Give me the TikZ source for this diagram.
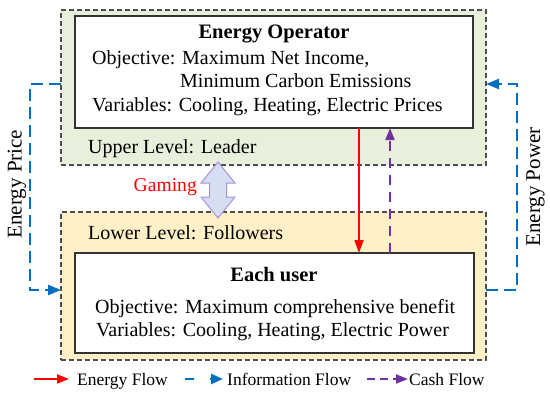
\documentclass[tikz,border=0pt]{standalone}
\usepackage{fontspec}
\setmainfont{Liberation Serif}
\usetikzlibrary{arrows.meta}
\definecolor{upfill}{HTML}{E8EFDA}
\definecolor{lowfill}{HTML}{FFF0C8}
\definecolor{infoblue}{HTML}{0070C0}
\definecolor{cashpurple}{HTML}{7030A0}
\definecolor{gamefillc}{HTML}{D6DEF2}
\definecolor{gamedrawc}{HTML}{A890DA}
\definecolor{borderg}{HTML}{4D4D4D}
\tikzset{
  levelbox/.style={draw=borderg, line width=1.2pt, dash pattern=on 5pt off 3pt, inner sep=0pt, outer sep=0pt},
  whitebox/.style={draw=black!80, line width=1.3pt, fill=white, inner sep=0pt, outer sep=0pt},
  txt/.style={inner sep=0pt, anchor=base west, font=\fontsize{20}{23.5}\selectfont},
  ttl/.style={inner sep=0pt, anchor=base, font=\fontsize{20.5}{23.5}\selectfont\bfseries},
  sidelbl/.style={inner sep=0pt, anchor=base, rotate=90, font=\fontsize{21}{24}\selectfont},
  legtxt/.style={inner sep=0pt, anchor=base west, font=\fontsize{17.5}{20}\selectfont},
  energyarrow/.style={draw=red, line width=1.6pt, -{Triangle[length=13pt,width=9pt]}},
  infoarrow/.style={draw=infoblue, line width=2.4pt, dash pattern=on 12pt off 6pt, -{Triangle[length=13pt,width=10pt]}},
  casharrow/.style={draw=cashpurple, line width=1.8pt, dash pattern=on 10pt off 7pt, -{Triangle[length=12pt,width=9pt]}},
  gamearrow/.style={fill=gamefillc, draw=gamedrawc, line width=1pt, line join=miter}
}
\begin{document}
\begin{tikzpicture}[x=1pt,y=-1pt]
\useasboundingbox (0,0) rectangle (550,394);
% level boxes
\node[levelbox, fill=upfill, minimum width=425pt, minimum height=155pt] (upper) at (273.5,87.5) {};
\node[levelbox, fill=lowfill, minimum width=425pt, minimum height=148pt] (lower) at (273.5,286) {};
% inner boxes
\node[whitebox, minimum width=398pt, minimum height=112pt] (op) at (274,72) {};
\node[whitebox, minimum width=399pt, minimum height=100pt] (user) at (274.5,303) {};
% texts upper
\node[ttl] (opttl) at (274,38.3) {Energy Operator};
\node[txt] (opobj) at (92,64) {Objective: Maximum Net Income,};
\node[txt] (opobj2) at (180,87.5) {Minimum Carbon Emissions};
\node[txt] (opvar) at (92,111) {Variables: Cooling, Heating, Electric Prices};
\node[txt] (uplbl) at (88,153.7) {Upper Level: Leader};
% texts lower
\node[txt] (lowlbl) at (88,239.7) {Lower Level: Followers};
\node[ttl] (userttl) at (274,281.3) {Each user};
\node[txt] (userobj) at (95,313) {Objective: Maximum comprehensive benefit};
\node[txt] (uservar) at (96,336.7) {Variables: Cooling, Heating, Electric Power};
% gaming
\node[inner sep=0pt, anchor=base east, text=red, font=\fontsize{19.6}{22}\selectfont] (gaming) at (197,191.7) {Gaming};
\draw[gamearrow] (218,162) -- (235,183) -- (226.5,183) -- (226.5,197) -- (235,197) -- (218,218) -- (201,197) -- (209.5,197) -- (209.5,183) -- (201,183) -- cycle;
% vertical flows
\coordinate (rx) at (359,0);
\coordinate (px) at (390,0);
\draw[energyarrow] (op.south -| rx) -- (user.north -| rx);
\draw[casharrow] (user.north -| px) -- (op.south -| px);
% information flows
\coordinate (ly) at (0,84);
\coordinate (lly) at (0,290);
\coordinate (lx) at (30,0);
\coordinate (rxx) at (517,0);
\draw[infoarrow] (upper.west |- ly) -| (lx |- lly) -- (lower.west |- lly);
\draw[infoarrow] (lower.east |- lly) -| (rxx |- ly) -- (upper.east |- ly);
\node[sidelbl] (eprice) at (21.5,184) {Energy Price};
\node[sidelbl] (epower) at (540,187) {Energy Power};
% legend
\coordinate (l1a) at (34,379);
\coordinate (l1b) at (69,379);
\coordinate (l2a) at (185,379);
\coordinate (l2b) at (223,379);
\coordinate (l3a) at (367,379);
\coordinate (l3b) at (408,379);
\draw[energyarrow, line width=1.8pt, -{Triangle[length=12pt,width=9pt]}] (l1a) -- (l1b);
\draw[infoarrow, dash pattern=on 9pt off 16pt, -{Triangle[length=12pt,width=10pt]}] (l2a) -- (l2b);
\draw[casharrow, dash pattern=on 8pt off 5pt, -{Triangle[length=12pt,width=9pt]}] (l3a) -- (l3b);
\node[legtxt] (leg1) at (77,385) {Energy Flow};
\node[legtxt] (leg2) at (227,385) {Information Flow};
\node[legtxt] (leg3) at (409,385) {Cash Flow};
\end{tikzpicture}
\end{document}
